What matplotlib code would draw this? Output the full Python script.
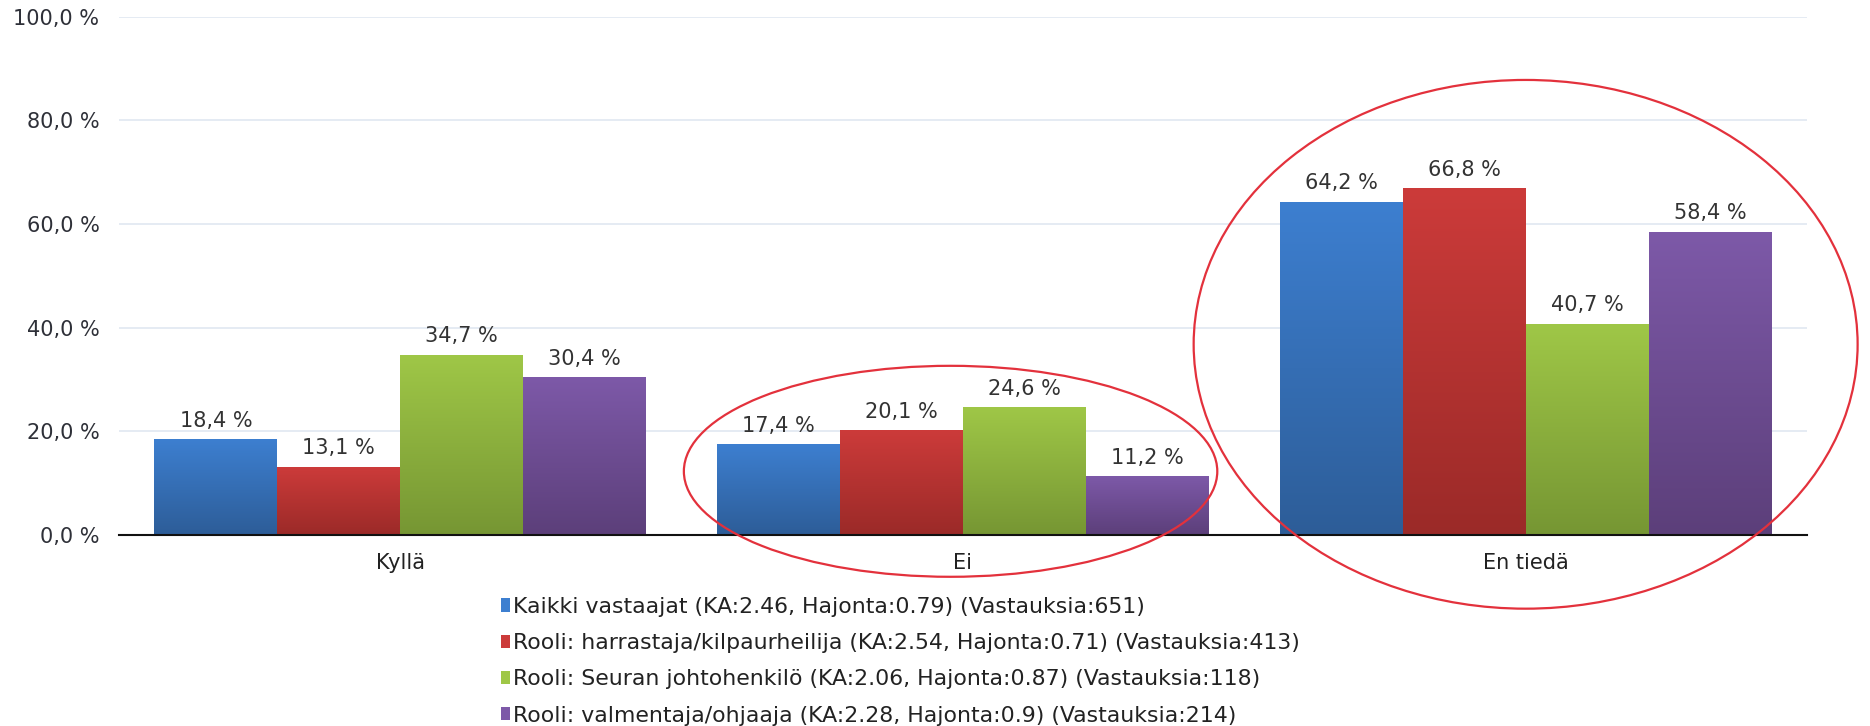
import numpy as np
import matplotlib
matplotlib.use("Agg")
import matplotlib.pyplot as plt
from matplotlib.colors import LinearSegmentedColormap
from matplotlib.patches import Ellipse, Rectangle

# =====================
# DATA
# =====================
categories = ["Kyllä", "Ei", "En tiedä"]

series_labels = [
    "Kaikki vastaajat (KA:2.46, Hajonta:0.79) (Vastauksia:651)",
    "Rooli: harrastaja/kilpaurheilija (KA:2.54, Hajonta:0.71) (Vastauksia:413)",
    "Rooli: Seuran johtohenkilö (KA:2.06, Hajonta:0.87) (Vastauksia:118)",
    "Rooli: valmentaja/ohjaaja (KA:2.28, Hajonta:0.9) (Vastauksia:214)",
]

kaikki = [18.4, 17.4, 64.2]
harrastaja = [13.1, 20.1, 66.8]
johto = [34.7, 24.6, 40.7]
valmentaja = [30.4, 11.2, 58.4]
values = [kaikki, harrastaja, johto, valmentaja]

# (top colour, bottom colour) for each series
colors = [
    ("#3d7fd0", "#2d5d98"),
    ("#cc3b3a", "#9b2a28"),
    ("#9fc747", "#769633"),
    ("#7d59a8", "#5c3f7a"),
]

# =====================
# STYLE
# =====================
plt.rcParams.update({
    "font.family": ["DejaVu Sans"],
    "font.size": 15,
    "text.color": "#333333",
})

fig = plt.figure(figsize=(18.7, 7.26), dpi=100)
ax = fig.add_axes([0.0636, 0.263, 0.9027, 0.714])

n = len(values)
bar_w = 0.874 / n
x = np.arange(len(categories))

for i, (vals, (top, bot)) in enumerate(zip(values, colors)):
    cmap = LinearSegmentedColormap.from_list(f"g{i}", [bot, top])
    grad = np.linspace(1, 0, 256).reshape(-1, 1)
    for j, v in enumerate(vals):
        x0 = x[j] - 0.437 + i * bar_w
        ax.imshow(grad, cmap=cmap, extent=(x0, x0 + bar_w, 0, v),
                  aspect="auto", zorder=3, interpolation="bicubic")
        ax.text(x0 + bar_w / 2, v + 2.5, f"{v:.1f} %".replace(".", ","),
                ha="center", va="baseline", fontsize=15, color="#333333", zorder=5)

ax.set_xlim(-0.5, len(categories) - 0.5)
ax.set_ylim(0, 100)
ax.set_yticks(np.arange(0, 101, 20))
ax.set_yticklabels([f"{t:.1f} %".replace(".", ",") for t in np.arange(0, 101, 20)],
                   color="#2e3038", fontsize=15)
ax.set_xticks(x)
ax.set_xticklabels(categories, fontsize=15, color="#222222")
ax.tick_params(axis="y", length=0, pad=14)
ax.tick_params(axis="x", length=0, pad=13)

ax.grid(axis="y", color="#e3e9f2", linewidth=1.3, zorder=0)
ax.set_axisbelow(True)
for s in ["top", "right", "left"]:
    ax.spines[s].set_visible(False)
ax.spines["bottom"].set_color("#111111")
ax.spines["bottom"].set_linewidth(1.5)
ax.spines["bottom"].set_zorder(6)

# red highlight ellipses
ax.add_patch(Ellipse((0.978, 12.3), 0.948, 40.7, fill=False, edgecolor="#e3313c",
                     linewidth=1.6, clip_on=False, zorder=7))
ax.add_patch(Ellipse((2.0, 36.8), 1.18, 102, fill=False, edgecolor="#e3313c",
                     linewidth=1.6, clip_on=False, zorder=7))

# legend
handles = [Rectangle((0, 0), 1, 1, facecolor=c[0]) for c in colors]
fig.legend(handles, series_labels, loc="upper left",
           bbox_to_anchor=(0.262, 0.193), frameon=False, fontsize=15.8,
           handlelength=0.42, handleheight=0.55, handletextpad=0.15,
           labelspacing=0.74, borderpad=0, labelcolor="#222222")

plt.savefig("out.png", dpi=100)
